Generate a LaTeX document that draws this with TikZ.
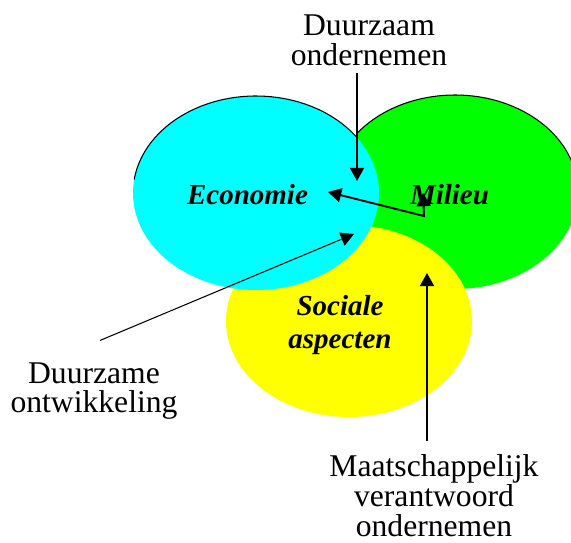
\documentclass[tikz,border=0pt]{standalone}
\usepackage{fontspec}
\setmainfont{Liberation Serif}
\usepackage{xcolor}
\usetikzlibrary{arrows.meta}
\definecolor{econcyan}{RGB}{0,255,255}
\definecolor{milgroen}{RGB}{0,255,0}
\definecolor{socgeel}{RGB}{255,255,0}
\tikzset{
  uitleg/.style={font=\fontsize{18}{17}\selectfont, align=center},
  veld/.style={font=\fontsize{16.5}{19}\selectfont\bfseries\itshape, align=center},
}

\begin{document}
\begin{tikzpicture}[>={Triangle[length=7.5pt,width=8pt]}, line width=1.1pt]
\useasboundingbox (0,0) rectangle (11.42,10.84);
\clip (0,0) rectangle (11.42,10.84);

\fill[milgroen] (9.10,7.00) ellipse (2.46 and 1.94);
\fill[socgeel] (6.98,4.42) ellipse (2.46 and 1.92);
\fill[econcyan] (5.12,6.98) ellipse (2.46 and 1.94);
\draw[line width=0.6pt] ([shift={(35:2.46 and 1.94)}]5.12,6.98) arc[start angle=35, end angle=172, x radius=2.46, y radius=1.94];
\draw[line width=0.6pt] ([shift={(143:2.46 and 1.94)}]9.10,7.00) arc[start angle=143, end angle=0, x radius=2.46, y radius=1.94];

\node[veld] (eco) at (4.95,6.94) {Economie};
\node[veld] (mil) at (8.99,6.94) {Milieu};
\node[veld] (soc) at (6.80,4.34) {Sociale\\aspecten};

\node[uitleg] (dz) at (7.38,10.03) {Duurzaam\\ondernemen};
\node[uitleg] (do) at (1.88,3.02) {Duurzame\\ontwikkeling};
\node[uitleg, inner sep=1pt] (mvo) at (8.68,0.92) {Maatschappelijk\\verantwoord\\ondernemen};

\coordinate (dzpunt) at (7.14,7.22);
\coordinate (dopunt) at (7.08,6.16);
\coordinate (mvopunt) at (8.54,5.38);
\coordinate (knik) at (8.48,6.52);
\coordinate (ecopunt) at (6.56,7.00);
\coordinate (milpunt) at (8.46,6.98);

\draw[->] (dzpunt |- dz.south) -- (dzpunt);
\draw[->, line width=0.6pt] ([shift={(0.12,0.3)}]do.north) -- (dopunt);
\draw[->] ([yshift=0.22cm]mvopunt |- mvo.north) -- (mvopunt);
\draw[<->] (ecopunt) -- (knik) -- (milpunt);

\end{tikzpicture}
\end{document}
